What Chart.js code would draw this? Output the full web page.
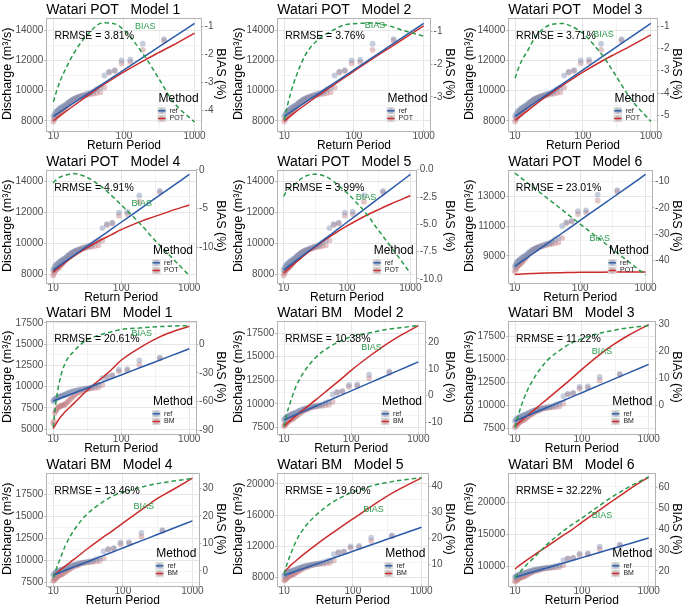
<!DOCTYPE html>
<html><head><meta charset="utf-8">
<script src="https://cdn.jsdelivr.net/npm/chart.js@4.4.0/dist/chart.umd.min.js"></script>
<style>
html,body{margin:0;padding:0;background:#fff;overflow:hidden;}
#wrap{position:relative;width:685px;height:606px;overflow:hidden;}
canvas{position:absolute;}
</style></head><body><div id="wrap"></div>
<script>
// ---------- data ----------
const curveT = [10, 11, 12.5, 15, 20, 30, 50, 70, 100, 200, 300, 500, 1000];
const refCurve = [8300, 8427, 8598, 8841, 9226, 9767, 10449, 10899, 11375, 12301, 12842, 13524, 14450];

const potModel1 = [8010, 8140, 8340, 8620, 9050, 9640, 10360, 10800, 11245, 12040, 12480, 13020, 13810];
const potBias1 = [-3.70, -3.35, -2.95, -2.51, -1.92, -1.32, -0.88, -0.90, -1.14, -2.10, -2.80, -3.70, -4.42];
const potModel2 = [7990, 8150, 8350, 8635, 9065, 9645, 10350, 10810, 11285, 12210, 12735, 13390, 14285];
const potBias2 = [-3.71, -3.30, -2.85, -2.34, -1.73, -1.27, -0.97, -0.82, -0.77, -0.75, -0.82, -0.97, -1.15];
const potModel3 = [8025, 8180, 8380, 8650, 9090, 9670, 10355, 10785, 11225, 12010, 12430, 12950, 13690];
const potBias3 = [-3.34, -2.95, -2.55, -2.15, -1.48, -0.99, -0.88, -1.03, -1.33, -2.37, -3.19, -4.24, -5.28];
const potModel4 = [8160, 8320, 8515, 8780, 9180, 9680, 10230, 10550, 10900, 11450, 11720, 12060, 12490];
const potBias4 = [-1.67, -1.30, -0.95, -0.70, -0.48, -0.88, -2.10, -3.20, -4.50, -7.15, -8.90, -10.90, -13.60];
const potModel5 = [8100, 8260, 8455, 8725, 9160, 9725, 10375, 10755, 11135, 11810, 12150, 12565, 13080];
const potBias5 = [-2.44, -2.00, -1.65, -1.34, -0.72, -0.41, -0.72, -1.34, -2.13, -4.00, -5.40, -7.10, -9.47];
const potModel6 = [7750, 7770, 7790, 7810, 7830, 7860, 7880, 7890, 7900, 7910, 7915, 7920, 7925];
const potBias6 = [-6.8, -7.6, -8.6, -10.2, -12.6, -16.0, -20.3, -23.2, -26.2, -32.0, -35.4, -39.7, -45.5];
const bmModel1 = [5080, 5600, 6300, 7050, 8000, 9400, 10900, 11900, 13100, 14700, 15500, 16300, 17100];
const bmBias1 = [-87, -60.7, -38, -20, -7.8, 3.5, 9.9, 12.7, 15.2, 17, 18, 18.7, 19.4];
const bmModel2 = [7600, 7900, 8250, 8750, 9450, 10450, 11750, 12600, 13550, 15200, 16100, 17100, 18290];
const bmBias2 = [-11.5, -6.8, -2.3, 3.4, 9.1, 14.5, 18.7, 20.6, 22.2, 23.8, 24.7, 25.5, 26.4];
const bmModel3 = [7720, 8000, 8350, 8850, 9600, 10650, 12000, 12900, 13900, 15700, 16600, 17600, 18750];
const bmBias3 = [-8.2, -4.4, 0, 5.0, 10.7, 16.4, 20.8, 23, 24.6, 26.8, 27.7, 28.6, 29.4];
const bmModel4 = [8250, 8500, 8850, 9350, 10100, 11200, 12500, 13300, 14200, 15900, 16900, 17900, 19300];
const bmBias4 = [-2.5, 0.6, 4.3, 9.3, 14.9, 20.4, 24.8, 27, 28.5, 30.6, 31.6, 32.5, 33.5];
const bmModel5 = [8750, 9100, 9600, 10200, 11100, 12300, 13700, 14600, 15500, 17300, 18300, 19400, 20750];
const bmBias5 = [6.0, 10, 14, 19, 24.3, 29.2, 33.8, 36, 37.8, 40.4, 41.4, 42.4, 43.4];
const bmModel6 = [9600, 9950, 10400, 11000, 11900, 13100, 14700, 15700, 16900, 19100, 20400, 22000, 24000];
const bmBias6 = [16.7, 18.3, 20.3, 23.0, 26.8, 32.5, 38.5, 41.9, 45.2, 52, 55.8, 60, 64.9];

const obsT = [370, 185, 123, 92.5, 74, 61.7, 52.9, 46.3, 41.1, 37, 33.6, 30.8, 28.5, 26.4, 24.7, 23.1, 21.8, 20.6, 19.5, 18.5, 17.6, 16.8, 16.1, 15.4, 14.8, 14.2, 13.7, 13.2, 12.8, 12.3, 11.9, 11.6, 11.2, 10.9, 10.6, 10.3, 10];
const refObs = [13400, 13100, 12050, 12000, 11350, 11250, 11000, 10200, 10100, 9950, 9850, 9800, 9750, 9700, 9650, 9600, 9550, 9500, 9450, 9400, 9300, 9250, 9200, 9100, 9050, 9000, 8950, 8900, 8850, 8800, 8750, 8700, 8650, 8600, 8500, 8400, 8300];
const potObs = [13300, 12700, 11900, 11800, 11300, 11200, 10200, 9900, 9850, 9800, 9780, 9750, 9700, 9660, 9620, 9580, 9540, 9480, 9420, 9350, 9280, 9200, 9100, 9000, 8900, 8800, 8720, 8650, 8580, 8500, 8450, 8400, 8350, 8300, 8200, 8100, 7950];
const bmObs = [13300, 12700, 11900, 11800, 11300, 11200, 10200, 9900, 9850, 9800, 9780, 9750, 9700, 9650, 9600, 9450, 9400, 9350, 9250, 9150, 9050, 8950, 8850, 8750, 8650, 8550, 8450, 8400, 8350, 8300, 8250, 8150, 8050, 7950, 7850, 7750, 7650];
const bm1Obs = [13300, 12600, 11900, 11800, 11300, 11100, 10200, 9900, 9850, 9800, 9750, 9700, 9600, 9500, 9400, 9300, 9150, 9000, 8800, 8650, 8500, 8300, 8150, 8000, 7900, 7850, 7800, 7750, 7700, 7650, 7550, 7450, 7300, 7100, 6900, 5900, 5700];

const panelTitles = ['Watari POT   Model 1', 'Watari POT   Model 2', 'Watari POT   Model 3',
  'Watari POT   Model 4', 'Watari POT   Model 5', 'Watari POT   Model 6',
  'Watari BM   Model 1', 'Watari BM   Model 2', 'Watari BM   Model 3',
  'Watari BM   Model 4', 'Watari BM   Model 5', 'Watari BM   Model 6'];
const rrmseValues = ['3.81%', '3.76%', '3.71%', '4.91%', '3.99%', '23.01%', '20.61%', '10.38%', '11.22%', '13.46%', '19.60%', '32.22%'];
const methodNames = ['POT', 'POT', 'POT', 'POT', 'POT', 'POT', 'BM', 'BM', 'BM', 'BM', 'BM', 'BM'];
const modelCurves = [potModel1, potModel2, potModel3, potModel4, potModel5, potModel6, bmModel1, bmModel2, bmModel3, bmModel4, bmModel5, bmModel6];
const biasCurves = [potBias1, potBias2, potBias3, potBias4, potBias5, potBias6, bmBias1, bmBias2, bmBias3, bmBias4, bmBias5, bmBias6];
const modelObs = [potObs, potObs, potObs, potObs, potObs, potObs, bm1Obs, bmObs, bmObs, bmObs, bmObs, bmObs];
const biasLabelT = 200;
const biasLabelY = [-1.0, -0.82, -1.37, -4.3, -2.5, -31.8, 11.6, 18.1, 19.7, 23.2, 30.9, 46.4];

const xTicks = [10, 100, 1000];
const leftTicks = [[8000, 10000, 12000, 14000], [8000, 10000, 12000, 14000], [8000, 10000, 12000, 14000],
  [8000, 10000, 12000, 14000], [8000, 10000, 12000, 14000], [9000, 11000, 13000],
  [5000, 7500, 10000, 12500, 15000, 17500], [7500, 10000, 12500, 15000, 17500], [7500, 10000, 12500, 15000, 17500],
  [7500, 10000, 12500, 15000, 17500], [8000, 12000, 16000, 20000], [10000, 15000, 20000]];
const rightTicks = [[-4, -3, -2, -1], [-3, -2, -1], [-5, -4, -3, -2, -1],
  [-10, -5, 0], [-10, -7.5, -5, -2.5, 0], [-40, -30, -20, -10],
  [-90, -60, -30, 0], [-10, 0, 10, 20], [0, 10, 20, 30],
  [0, 10, 20, 30], [10, 20, 30, 40], [20, 30, 40, 50, 60]];
const rightDecimals = [0, 0, 0, 0, 1, 0, 0, 0, 0, 0, 0, 0];

// ---------- layout / axis limits ----------
const leftMin = [7382, 7382, 7382, 7516, 7516, 7240, 4524, 6888, 6982, 7151, 7041, 7058];
const leftMax = [14838, 14838, 14838, 14770, 14770, 14783, 17778, 18832, 19202, 19942, 21439, 24708];
const rightMin = [-4.71, -4.02, -5.67, -14.47, -10.3, -48.3, -93.2, -14.1, -10.3, -5.2, 1.8, 13.1];
const rightMax = [-0.69, -0.58, -0.61, 0.05, 0.02, -5.45, 24.7, 28.3, 31.3, 35.7, 45.4, 67.0];
const colX = [0, 231, 462], colW = [229, 227, 223];
const rowY = [0, 152, 303, 455];
const CH = 152;

const FONT = "'Liberation Sans', Arial, Helvetica, sans-serif";
const BLUE = '#2B5BA8', RED = '#CC2B2B', GREEN = '#2A9A4B';
const REF_PT = 'rgba(128,145,178,0.45)', MOD_PT = 'rgba(196,128,133,0.45)';
const GRID_MAJ = '#e6e6e6', GRID_MIN = '#f3f3f3', BORDER = '#b3b3b3', TICKTXT = '#4d4d4d';

Chart.defaults.font.family = FONT;

function withMinors(major, min, max, log) {
  const out = major.map(v => ({value: v, mj: true}));
  if (log) {
    for (let i = 0; i < major.length - 1; i++) out.push({value: Math.sqrt(major[i] * major[i + 1]), mj: false});
  } else {
    const step = major[1] - major[0];
    const cands = major.map(v => v - step / 2).concat([major[major.length - 1] + step / 2]);
    cands.forEach(v => { if (v > min && v < max) out.push({value: v, mj: false}); });
  }
  return out.sort((a, b) => a.value - b.value);
}
function pts(xs, ys) { return xs.map((x, i) => ({x: x, y: ys[i]})); }

const deco = {
  id: 'deco',
  afterDatasetsDraw(chart, args, o) {
    const {ctx, chartArea: a, scales} = chart;
    ctx.save();
    ctx.strokeStyle = BORDER; ctx.lineWidth = 1;
    ctx.strokeRect(Math.round(a.left) + 0.5, Math.round(a.top) + 0.5, Math.round(a.right - a.left), Math.round(a.bottom - a.top));
    // title
    ctx.fillStyle = '#000'; ctx.font = '14px ' + FONT; ctx.textAlign = 'left'; ctx.textBaseline = 'alphabetic';
    ctx.fillText(o.title, a.left, a.top - 3.5);
    // RRMSE
    ctx.font = '10.5px ' + FONT; ctx.textBaseline = 'middle';
    ctx.fillText('RRMSE = ' + o.rrmse, scales.x.getPixelForValue(10) + 1, a.top + 18.5);
    // BIAS label
    ctx.fillStyle = GREEN; ctx.font = '9px ' + FONT; ctx.textAlign = 'center';
    ctx.fillText('BIAS', scales.x.getPixelForValue(o.biasT), scales.y1.getPixelForValue(o.biasY));
    // legend
    const r = a.right, b = a.bottom;
    ctx.fillStyle = '#000'; ctx.font = '12px ' + FONT; ctx.textAlign = 'right'; ctx.textBaseline = 'alphabetic';
    ctx.fillText('Method', r - 3, b - 28);
    const kx = r - 44;
    [[BLUE, 'ref', REF_PT], [RED, o.method, MOD_PT]].forEach((k, i) => {
      const ky = b - 23 + i * 7.7;
      ctx.fillStyle = '#d9d9d9'; ctx.fillRect(kx, ky, 8.5, 7.2);
      ctx.fillStyle = k[2]; ctx.beginPath(); ctx.arc(kx + 4.25, ky + 3.6, 2.8, 0, 2 * Math.PI); ctx.fill();
      ctx.strokeStyle = k[0]; ctx.lineWidth = 1.4; ctx.beginPath(); ctx.moveTo(kx + 0.5, ky + 3.6); ctx.lineTo(kx + 8, ky + 3.6); ctx.stroke();
      ctx.fillStyle = '#222'; ctx.font = '7px ' + FONT; ctx.textAlign = 'left'; ctx.textBaseline = 'middle';
      ctx.fillText(k[1], kx + 12, ky + 3.6);
    });
    ctx.restore();
  }
};

const wrap = document.getElementById('wrap');
for (let p = 0; p < 12; p++) {
  const col = p % 3, row = Math.floor(p / 3);
  const cv = document.createElement('canvas');
  cv.width = colW[col]; cv.height = CH;
  cv.style.left = colX[col] + 'px'; cv.style.top = rowY[row] + 'px';
  cv.style.width = colW[col] + 'px'; cv.style.height = CH + 'px';
  wrap.appendChild(cv);
  const lt = leftTicks[p], rt = rightTicks[p], dec = rightDecimals[p];
  const lmin = leftMin[p], lmax = leftMax[p];
  new Chart(cv, {
    type: 'scatter',
    data: {datasets: [
      {data: pts(curveT, biasCurves[p]), yAxisID: 'y1', showLine: true, borderColor: GREEN, borderWidth: 1.5, borderDash: [4.5, 3], pointRadius: 0, cubicInterpolationMode: 'monotone', fill: false},
      {data: pts(curveT, refCurve), yAxisID: 'y', showLine: true, borderColor: BLUE, borderWidth: 1.5, pointRadius: 0, cubicInterpolationMode: 'monotone'},
      {data: pts(curveT, modelCurves[p]), yAxisID: 'y', showLine: true, borderColor: RED, borderWidth: 1.5, pointRadius: 0, cubicInterpolationMode: 'monotone'},
      {data: pts(obsT, refObs), yAxisID: 'y', pointRadius: 2.9, pointBackgroundColor: REF_PT, pointBorderWidth: 0},
      {data: pts(obsT, modelObs[p]), yAxisID: 'y', pointRadius: 2.9, pointBackgroundColor: MOD_PT, pointBorderWidth: 0}
    ]},
    options: {
      responsive: false, animation: false, devicePixelRatio: 1,
      layout: {padding: {top: 17.5, bottom: 1, left: 1, right: 2}},
      plugins: {legend: {display: false}, tooltip: {enabled: false},
        deco: {title: panelTitles[p], rrmse: rrmseValues[p], method: methodNames[p], biasT: biasLabelT, biasY: biasLabelY[p]}},
      scales: {
        x: {type: 'logarithmic', min: 7.94, max: 1259,
          afterBuildTicks: s => { s.ticks = withMinors(xTicks, 7.94, 1259, true); },
          ticks: {autoSkip: false, maxRotation: 0, padding: 0, color: TICKTXT, font: {size: 10, lineHeight: 0.8},
            callback: (v, i, t) => t[i].mj ? String(v) : ''},
          grid: {color: c => (c.tick && c.tick.mj) ? GRID_MAJ : GRID_MIN, tickColor: c => (c.tick && c.tick.mj) ? BORDER : 'rgba(0,0,0,0)', tickLength: 2},
          border: {display: false},
          title: {display: true, text: 'Return Period', color: '#000', font: {size: 12, lineHeight: 0.9}, padding: {top: 0, bottom: 0}}
        },
        y: {type: 'linear', position: 'left', min: lmin, max: lmax,
          afterBuildTicks: s => { s.ticks = withMinors(lt, lmin, lmax, false); },
          ticks: {autoSkip: false, padding: 1, color: TICKTXT, font: {size: 10},
            callback: (v, i, t) => t[i].mj ? String(v) : ''},
          grid: {color: c => (c.tick && c.tick.mj) ? GRID_MAJ : GRID_MIN, tickColor: c => (c.tick && c.tick.mj) ? BORDER : 'rgba(0,0,0,0)', tickLength: 2},
          border: {display: false},
          title: {display: true, text: 'Discharge (m³/s)', color: '#000', font: {size: 12.5, lineHeight: 1}, padding: {top: 0, bottom: 1}}
        },
        y1: {type: 'linear', position: 'right', min: rightMin[p], max: rightMax[p],
          afterBuildTicks: s => { s.ticks = rt.map(v => ({value: v, mj: true})); },
          ticks: {autoSkip: false, padding: 1, color: TICKTXT, font: {size: 10},
            callback: v => v.toFixed(dec)},
          grid: {drawOnChartArea: false, tickColor: BORDER, tickLength: 2},
          border: {display: false},
          title: {display: true, text: 'BIAS (%)', color: '#000', font: {size: 12.5, lineHeight: 1}, padding: {top: 0, bottom: 0}}
        }
      }
    },
    plugins: [deco]
  });
}
</script></body></html>
